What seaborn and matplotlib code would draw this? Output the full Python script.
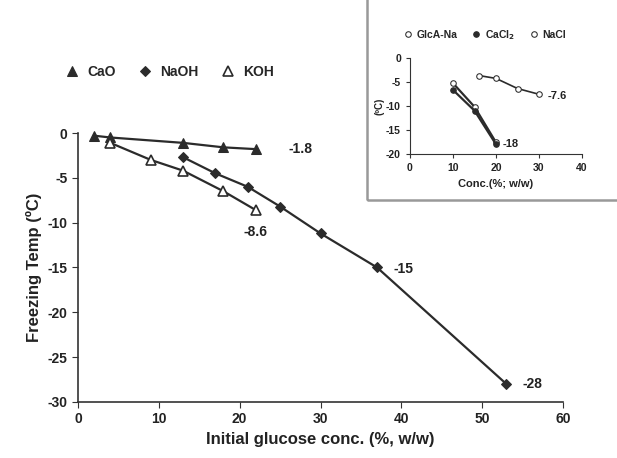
import pandas as pd
import matplotlib.pyplot as plt
import seaborn as sns

# --- datos principales --- #
CAO_X = [2, 4, 13, 18, 22]
CAO_Y = [-0.3, -0.5, -1.1, -1.6, -1.8]
NAOH_X = [13, 17, 21, 25, 30, 37, 53]
NAOH_Y = [-2.7, -4.5, -6.0, -8.2, -11.2, -15.0, -28.0]
KOH_X = [4, 9, 13, 18, 22]
KOH_Y = [-1.1, -3.0, -4.2, -6.5, -8.6]

# --- datos del recuadro --- #
GLCA_X = [10, 15, 20]
GLCA_Y = [-5.3, -10.2, -17.6]
CACL2_X = [10, 15, 20]
CACL2_Y = [-6.7, -11.0, -18.0]
NACL_X = [16, 20, 25, 30]
NACL_Y = [-3.7, -4.3, -6.4, -7.6]

COLOR = "#2b2b2b"

sns.set_style("ticks")
plt.rcParams['font.family'] = ['Liberation Sans', 'DejaVu Sans']
plt.rcParams['font.weight'] = 'bold'
plt.rcParams['axes.unicode_minus'] = False

fig = plt.figure(figsize=(6.17, 4.58), dpi=100)
ax = fig.add_axes([0.1264, 0.1223, 0.7861, 0.5873])

df_cao = pd.DataFrame({"x": CAO_X, "y": CAO_Y})
df_naoh = pd.DataFrame({"x": NAOH_X, "y": NAOH_Y})
df_koh = pd.DataFrame({"x": KOH_X, "y": KOH_Y})

sns.lineplot(data=df_cao, x="x", y="y", ax=ax, color=COLOR, marker="^", markersize=7.5,
             markeredgecolor=COLOR, linewidth=1.6, label="CaO", clip_on=False)
sns.lineplot(data=df_naoh, x="x", y="y", ax=ax, color=COLOR, marker="D", markersize=5.5,
             markeredgecolor=COLOR, linewidth=1.6, label="NaOH", clip_on=False)
sns.lineplot(data=df_koh, x="x", y="y", ax=ax, color=COLOR, marker="^", markersize=7.5,
             markerfacecolor="white", markeredgecolor=COLOR, markeredgewidth=1.2,
             linewidth=1.6, label="KOH", clip_on=False)

ax.set_xlim(0, 60)
ax.set_ylim(-30, 0)
ax.set_xticks(range(0, 61, 10))
ax.set_yticks(range(-30, 1, 5))
ax.set_xlabel("Initial glucose conc. (%, w/w)", fontsize=12, fontweight="bold", color="#222")
ax.set_ylabel("Freezing Temp (ºC)", fontsize=12, fontweight="bold", color="#222")
ax.tick_params(labelsize=10, length=4, color="#333", labelcolor="#222")
for s in ["left", "bottom"]:
    ax.spines[s].set_color("#333")
    ax.spines[s].set_linewidth(1.2)
sns.despine(ax=ax)

# etiquetas de los valores finales
ax.text(26, -1.8, "-1.8", fontsize=10, fontweight="bold", va="center", color="#222")
ax.text(22, -11.0, "-8.6", fontsize=10, fontweight="bold", va="center", ha="center", color="#222")
ax.text(39, -15.2, "-15", fontsize=10, fontweight="bold", va="center", color="#222")
ax.text(55, -28.0, "-28", fontsize=10, fontweight="bold", va="center", color="#222")

leg = ax.legend(loc="center", bbox_to_anchor=(0.275, 0.843), bbox_transform=fig.transFigure,
                ncol=3, frameon=False, fontsize=10, handlelength=1.0, columnspacing=1.6,
                handletextpad=0.6)
for h in leg.get_lines():
    h.set_linestyle("none")

# --- recuadro --- #
box = plt.Rectangle((0.595, 0.563), 0.45, 0.47, transform=fig.transFigure,
                    fill=False, edgecolor="#999999", linewidth=1.8)
fig.add_artist(box)

axi = fig.add_axes([0.6645, 0.6638, 0.2788, 0.2102])
df_glca = pd.DataFrame({"x": GLCA_X, "y": GLCA_Y})
df_cacl2 = pd.DataFrame({"x": CACL2_X, "y": CACL2_Y})
df_nacl = pd.DataFrame({"x": NACL_X, "y": NACL_Y})

sns.lineplot(data=df_glca, x="x", y="y", ax=axi, color=COLOR, marker="o", markersize=4,
             markerfacecolor="white", markeredgecolor=COLOR, linewidth=1.6, label="GlcA-Na",
             clip_on=False)
sns.lineplot(data=df_cacl2, x="x", y="y", ax=axi, color=COLOR, marker="o", markersize=4,
             markeredgecolor=COLOR, linewidth=1.6, label="CaCl$_2$", clip_on=False)
sns.lineplot(data=df_nacl, x="x", y="y", ax=axi, color=COLOR, marker="o", markersize=4,
             markerfacecolor="white", markeredgecolor=COLOR, linewidth=1.2, label="NaCl",
             clip_on=False)

axi.set_xlim(0, 40)
axi.set_ylim(-20, 0)
axi.set_xticks(range(0, 41, 10))
axi.set_yticks(range(-20, 1, 5))
axi.set_xlabel("Conc.(%; w/w)", fontsize=8, fontweight="bold", color="#222")
axi.set_ylabel("(ºC)", fontsize=7, fontweight="bold", color="#222", labelpad=1)
axi.tick_params(labelsize=7.5, length=3, color="#333", labelcolor="#222")
for s in ["left", "bottom"]:
    axi.spines[s].set_color("#333")
sns.despine(ax=axi)

axi.text(32, -8.0, "-7.6", fontsize=8, fontweight="bold", va="center", color="#222")
axi.text(21.5, -17.9, "-18", fontsize=8, fontweight="bold", va="center", color="#222")

legi = axi.legend(loc="center", bbox_to_anchor=(0.786, 0.924), bbox_transform=fig.transFigure,
                  ncol=3, frameon=False, fontsize=7.5, handlelength=0.8, columnspacing=1.4,
                  handletextpad=0.4)
for h in legi.get_lines():
    h.set_linestyle("none")

fig.savefig("out.png", dpi=100)
